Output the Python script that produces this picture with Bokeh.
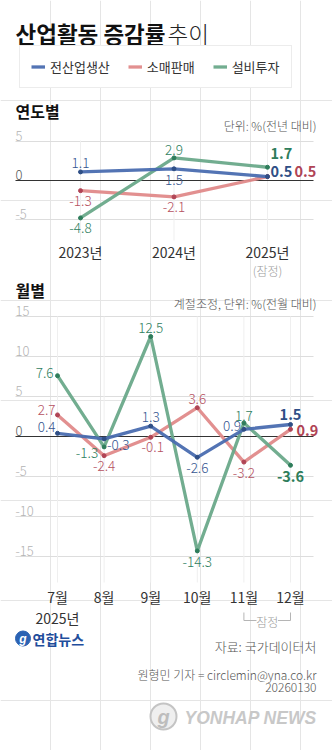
from bokeh.plotting import figure
from bokeh.models import Range1d, LinearAxis, FixedTicker, Legend, LegendItem, Label
from bokeh.core.properties import value
from bokeh.embed import file_html
from bokeh.resources import INLINE

# ---------------- data ----------------
series_names = ["전산업생산", "소매판매", "설비투자"]
years = ["2023년", "2024년", "2025년"]
year_prod = [1.1, 1.5, 0.5]
year_retail = [-1.3, -2.1, 0.5]
year_invest = [-4.8, 2.9, 1.7]
year_ticks = [5, 0, -5]

months = ["7월", "8월", "9월", "10월", "11월", "12월"]
month_prod = [0.4, -0.3, 1.3, -2.6, 0.9, 1.5]
month_retail = [2.7, -2.4, -0.1, 3.6, -3.2, 0.9]
month_invest = [7.6, -1.3, 12.5, -14.3, 1.7, -3.6]
month_ticks = [15, 10, 5, 0, -5, -10, -15]

# ---------------- styles / layout ----------------
W, H = 332, 750
FONT_S = "Noto Sans CJK KR"
LFONT_S = "'Noto Sans CJK KR Light', 'Noto Sans CJK KR'"
FONT = value(FONT_S)
LFONT = value(LFONT_S)
LINE_COLORS = ["#4a6db0", "#e08a8a", "#6aa98a"]
DOT_COLORS = ["#2f4f86", "#b04455", "#2e7d5b"]
TEXT_COLORS = ["#34558f", "#b5515f", "#2f8060"]
GRID_L, GRID_R = 15, 313

# label placement per point: (dx, dy, align, baseline)
A = lambda dy=-4, dx=0: (dx, dy, "center", "bottom")
B = lambda dy=5, dx=0: (dx, dy, "center", "top")
L = lambda dx=-4, dy=0: (dx, dy, "right", "middle")
R = lambda dx=4, dy=0: (dx, dy, "left", "middle")

year_place = [
    [A(-4), B(6), R(3, -5)],
    [B(5), B(5), R(27, -5)],
    [B(5), A(-3), R(3, -14)],
]
month_place = [
    [L(-2, -6), R(3, 6), A(-4), B(6), L(-3, -3), A(-5)],
    [L(-2, -5), B(5), B(5, 2), A(-4), B(6), R(6, 1)],
    [L(-4, -3), L(-6, 6), A(-4), B(6), A(-2), B(6)],
]

p = figure(width=W, height=H, x_range=Range1d(0, W), y_range=Range1d(H, 0),
           output_backend="svg", toolbar_location=None, min_border=0,
           x_axis_location=None, y_axis_location=None, outline_line_color=None,
           background_fill_color="white", border_fill_color="white")


def xr(x0, dx):
    return Range1d(-x0 / dx, (W - x0) / dx)


def yr(y0, ppu):
    return Range1d((y0 - H) / ppu, y0 / ppu)


p.extra_x_ranges = {"yx": xr(80, 93.5), "mx": xr(57, 46.6)}
p.extra_y_ranges = {"yy": yr(180, 7.8), "my": yr(436, 8.0)}


def draw_chart(cats, data, ticks, xn, yn, vtop, vbot, axis_y, place):
    idx = list(range(len(cats)))
    others = [t for t in ticks if t != 0]
    p.segment(x0=GRID_L, x1=GRID_R, y0=others, y1=others, y_range_name=yn,
              line_color="#dddddd", line_width=1)
    p.segment(x0=idx, x1=idx, y0=vtop, y1=vbot, x_range_name=xn,
              line_color="#efefef", line_width=1)
    p.segment(x0=GRID_L, x1=GRID_R, y0=0, y1=0, y_range_name=yn,
              line_color="#333333", line_width=1.2)
    p.text(x=GRID_L, y=ticks, text=[str(t) for t in ticks], y_range_name=yn,
           text_baseline="bottom", text_align="left", y_offset=-1,
           text_color=["#555555" if t == 0 else "#b3b3b3" for t in ticks],
           text_font=LFONT, text_font_size="13px")
    rends = []
    for k in [1, 2, 0]:
        r = p.line(idx, data[k], x_range_name=xn, y_range_name=yn,
                   line_color=LINE_COLORS[k], line_width=3.3, line_alpha=0.95)
        p.scatter(idx, data[k], x_range_name=xn, y_range_name=yn, size=4,
                  color=DOT_COLORS[k])
        rends.append((k, r))
    for k in range(3):
        last = len(idx) - 1
        for i, v in enumerate(data[k]):
            dx, dy, al, bl = place[k][i]
            bold = (i == last)
            p.text(x=[i], y=[v], text=[f"{v:.1f}"], x_range_name=xn, y_range_name=yn,
                   x_offset=dx, y_offset=dy, text_align=al, text_baseline=bl,
                   text_color=DOT_COLORS[k] if bold else TEXT_COLORS[k],
                   text_font=FONT if bold else LFONT,
                   text_font_style="bold" if bold else "normal",
                   text_font_size="14.5px" if bold else "13.5px")
    ax = LinearAxis(x_range_name=xn, fixed_location=axis_y,
                    ticker=FixedTicker(ticks=idx),
                    major_label_overrides={i: c for i, c in enumerate(cats)},
                    axis_line_color=None, major_tick_line_color=None,
                    minor_tick_line_color=None, major_label_standoff=5,
                    major_label_text_font=FONT_S, major_label_text_font_size="14px",
                    major_label_text_color="#333333")
    p.add_layout(ax, "below")
    return dict(rends)


def label(x, y, text, size, color, bold=False, align="left", font=None):
    p.add_layout(Label(x=x, y=y, text=text, text_font=font or (FONT_S if bold else LFONT_S),
                       text_font_style="bold" if bold else "normal",
                       text_font_size=size, text_baseline="middle", text_align=align,
                       text_color=color))


# ---------------- header ----------------
label(15, 32, "산업활동 증감률", "22.5px", "#111111", bold=True)
label(167, 32, "추이", "22.5px", "#222222")

# ---------------- yearly ----------------
label(15, 110, "연도별", "16px", "#111111", bold=True)
label(316, 125, "단위: %(전년 대비)", "12px", "#555555", align="right")
yr_rends = draw_chart(years, [year_prod, year_retail, year_invest], year_ticks,
                      "yx", "yy", 140, 240, 230, year_place)
p.text(x=[2], y=[270], text=["(잠정)"], x_range_name="yx", text_align="center",
       text_baseline="middle", text_color="#9a9a9a", text_font=LFONT, text_font_size="12px")

# ---------------- monthly ----------------
label(15, 289, "월별", "16px", "#111111", bold=True)
label(316, 303, "계절조정, 단위: %(전월 대비)", "12px", "#555555", align="right")
draw_chart(months, [month_prod, month_retail, month_invest], month_ticks,
           "mx", "my", 316, 582, 575, month_place)
p.text(x=[0], y=[617], text=["2025년"], x_range_name="mx", text_align="center",
       text_baseline="middle", text_color="#333333", text_font=FONT, text_font_size="14px")
p.segment(x0=[4, 5], x1=[4, 5], y0=612, y1=620, x_range_name="mx",
          line_color="#b5b5b5", line_width=1)
p.segment(x0=[4, 4.73], x1=[4.27, 5], y0=620, y1=620, x_range_name="mx",
          line_color="#b5b5b5", line_width=1)
p.text(x=[4.5], y=[621], text=["잠정"], x_range_name="mx", text_align="center",
       text_baseline="middle", text_color="#9a9a9a", text_font=LFONT, text_font_size="12px")

# ---------------- legend ----------------
legend = Legend(items=[LegendItem(label=series_names[k], renderers=[yr_rends[k]]) for k in range(3)],
                location=(19, H - 88), orientation="horizontal",
                label_text_font=FONT_S, label_text_font_size="13px", label_text_color="#333333",
                glyph_width=14, glyph_height=13, label_height=13, label_standoff=5,
                spacing=18, padding=11, margin=0,
                border_line_color="#d9d9d9", border_line_width=1,
                background_fill_color="white", background_fill_alpha=1)
p.add_layout(legend)

# ---------------- footer ----------------
p.scatter(x=[22.5], y=[638], size=15, color="#2b62b3")
p.text(x=[22.5], y=[638], text=["g"], text_align="center", text_baseline="middle",
       text_color="white", text_font=value("Liberation Sans"), text_font_style="bold italic",
       text_font_size="12px")
label(32, 638, "연합뉴스", "14px", "#1f4e9c", bold=True)
label(316, 646, "자료: 국가데이터처", "13px", "#555555", align="right")
label(316, 674, "원형민 기자 = circlemin@yna.co.kr", "12px", "#555555", align="right")
label(316, 687, "20260130", "12px", "#555555", align="right")
p.scatter(x=[163], y=[716], size=26, fill_color="#efefef", line_color="#c4c4c4", line_width=2)
p.text(x=[163], y=[716], text=["g"], text_align="center", text_baseline="middle",
       text_color="#bdbdbd", text_font=value("Liberation Sans"), text_font_style="bold italic",
       text_font_size="20px")
p.add_layout(Label(x=184, y=717, text="YONHAP NEWS", text_font="Liberation Sans",
                   text_font_style="bold italic", text_font_size="17.5px",
                   text_baseline="middle", text_color="#c8c8c8"))

open("out.html", "w").write(file_html(p, INLINE))
